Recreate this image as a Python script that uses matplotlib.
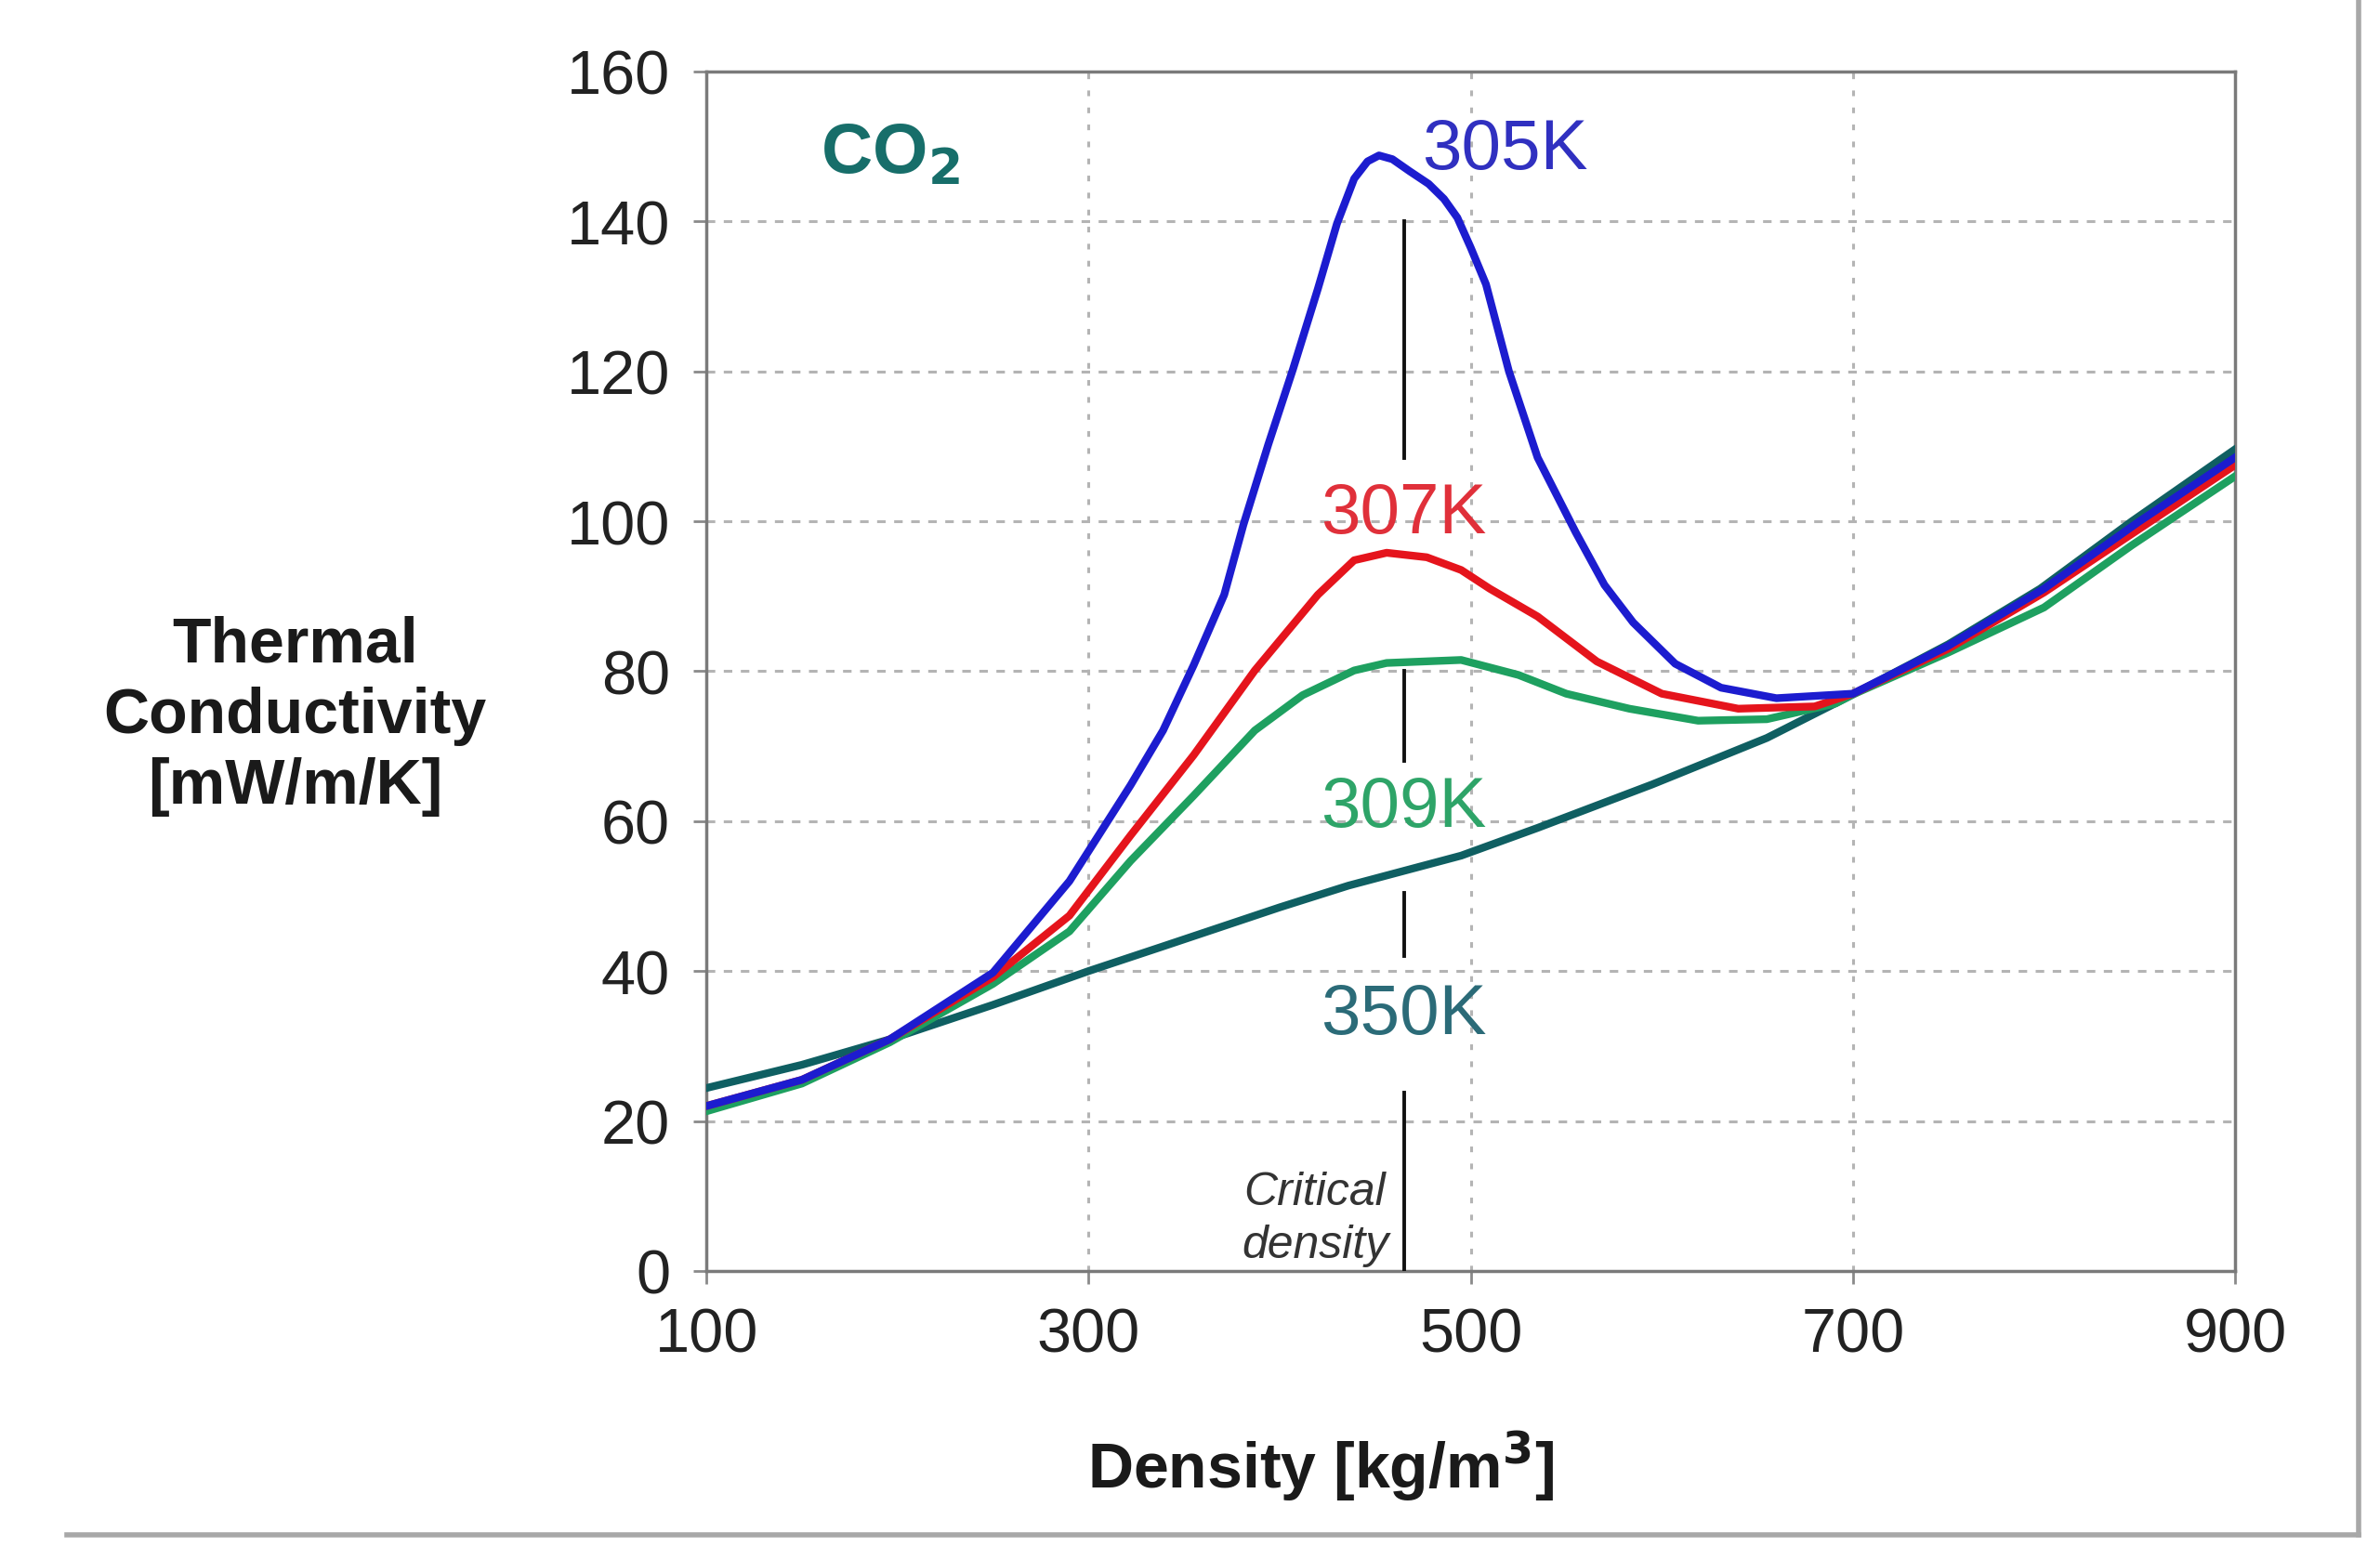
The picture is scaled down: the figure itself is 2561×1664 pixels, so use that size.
import numpy as np
import matplotlib.pyplot as plt
from matplotlib.lines import Line2D

plt.rcParams['font.family'] = ['Liberation Sans', 'DejaVu Sans']

# Values (density in kg/m3, conductivity in mW/m/K)
density_305 = [100, 150, 196, 250, 290, 322, 339, 355, 371, 381, 394, 407, 420, 430, 439, 446,
               452, 459, 468, 478, 486, 493, 500, 508, 520, 535, 555, 570, 585, 607, 631, 660,
               700, 750, 800, 850, 900]
tc_305 = [22, 25.5, 30.9, 39.8, 52, 64.8, 72.1, 80.8, 90.2, 99.5, 110.2, 120.3, 131, 139.7, 145.7, 148,
          148.8, 148.3, 146.7, 145, 143, 140.5, 136.5, 131.6, 120, 108.5, 98.5, 91.5, 86.5, 81, 77.8, 76.4,
          77, 83.4, 91, 100, 108.5]

density_307 = [100, 150, 196, 250, 290, 322, 355, 387, 420, 439, 456, 477, 495, 510, 535, 566,
               600, 640, 680, 700, 750, 800, 850, 900]
tc_307 = [22, 25.5, 30.9, 39.2, 47.4, 58.1, 68.8, 80.1, 90.2, 94.8, 95.8, 95.2, 93.5, 91, 87.3, 81.3,
          77, 75, 75.3, 77, 83, 90.5, 99, 107.5]

density_309 = [100, 150, 196, 250, 290, 322, 355, 387, 412, 439, 456, 495, 525, 550, 583, 619,
               655, 691, 700, 750, 800, 846, 900]
tc_309 = [21.3, 25, 30.5, 38.3, 45.3, 54.7, 63.4, 72.1, 76.8, 80.1, 81.1, 81.5, 79.5, 77, 75, 73.4,
          73.6, 75.7, 76.9, 82.5, 88.5, 96.8, 106]

density_350 = [100, 150, 196, 250, 300, 339, 400, 436, 495, 535, 595, 655, 700, 750, 798, 846, 900]
tc_350 = [24.4, 27.5, 30.9, 35.5, 40, 43.3, 48.5, 51.4, 55.4, 59.1, 64.9, 71.1, 76.9, 83.6, 91, 100, 109.6]

critical_density = 465
# pieces of the critical density marker that are visible between the labels
critical_segments = [(108.4, 140), (68, 80), (42, 50.4), (0, 23.8)]

x_ticks = [100, 300, 500, 700, 900]
y_ticks = [0, 20, 40, 60, 80, 100, 120, 140, 160]

fig = plt.figure(figsize=(25.61, 16.65), dpi=100)
ax = fig.add_axes([0.2968, 0.1778, 0.6423, 0.7754])

grid_col = '#b4b4b4'
for y in y_ticks[1:-1]:
    ax.axhline(y, color=grid_col, lw=2.2, ls=(0, (3, 3)), zorder=1)
for x in x_ticks[1:-1]:
    ax.axvline(x, color=grid_col, lw=2.2, ls=(0, (2, 4)), zorder=1)

line_w = 6
ax.plot(density_350, tc_350, color='#0f5f62', lw=line_w, zorder=3, solid_joinstyle='round')
ax.plot(density_309, tc_309, color='#1ea060', lw=line_w, zorder=4, solid_joinstyle='round')
ax.plot(density_307, tc_307, color='#e5141c', lw=line_w, zorder=5, solid_joinstyle='round')
ax.plot(density_305, tc_305, color='#1c1ccf', lw=line_w, zorder=6, solid_joinstyle='round')

for lo, hi in critical_segments:
    ax.plot([critical_density, critical_density], [lo, hi], color='#111111', lw=2.8, zorder=7)

lab_fs = 55
ax.text(518, 149.5, '305K', color='#3030c0', fontsize=lab_fs, ha='center', va='center', zorder=8)
ax.text(critical_density, 100.9, '307K', color='#e0303a', fontsize=lab_fs, ha='center', va='center', zorder=8)
ax.text(critical_density, 61.8, '309K', color='#2ea468', fontsize=lab_fs, ha='center', va='center', zorder=8)
ax.text(critical_density, 34.2, '350K', color='#2b6b78', fontsize=lab_fs, ha='center', va='center', zorder=8)
ax.text(196, 149, 'CO$_\\mathbf{2}$', color='#176e6a', fontsize=lab_fs, fontweight='bold',
        ha='center', va='center', zorder=8)
ax.text(457, 7, 'Critical\ndensity', color='#333333', fontsize=36, style='italic',
        ha='right', va='center', multialignment='center', linespacing=1.3, zorder=8)

ax.set_xlim(100, 900)
ax.set_ylim(0, 160)
ax.set_xticks(x_ticks)
ax.set_yticks(y_ticks)
ax.tick_params(axis='both', labelsize=48, length=10, width=2, color='#8a8a8a', pad=18,
               labelcolor='#222222')
for s in ax.spines.values():
    s.set_color('#7a7a7a')
    s.set_linewidth(2.5)

fig.text(0.124, 0.537, 'Thermal\nConductivity\n[mW/m/K]', fontsize=49, fontweight='bold',
         ha='center', va='center', multialignment='center', linespacing=1.25, color='#1a1a1a')
fig.text(0.555, 0.052, 'Density [kg/m$^\\mathbf{3}$]', fontsize=49, fontweight='bold',
         ha='center', va='center', color='#1a1a1a')

# light gray frame at right and bottom of the picture
fig.add_artist(Line2D([0.028, 0.991], [0.007, 0.007], transform=fig.transFigure,
                      color='#a8a8a8', lw=4))
fig.add_artist(Line2D([0.991, 0.991], [0.007, 1.0], transform=fig.transFigure,
                      color='#a8a8a8', lw=4))

fig.savefig('out.png', dpi=100)
